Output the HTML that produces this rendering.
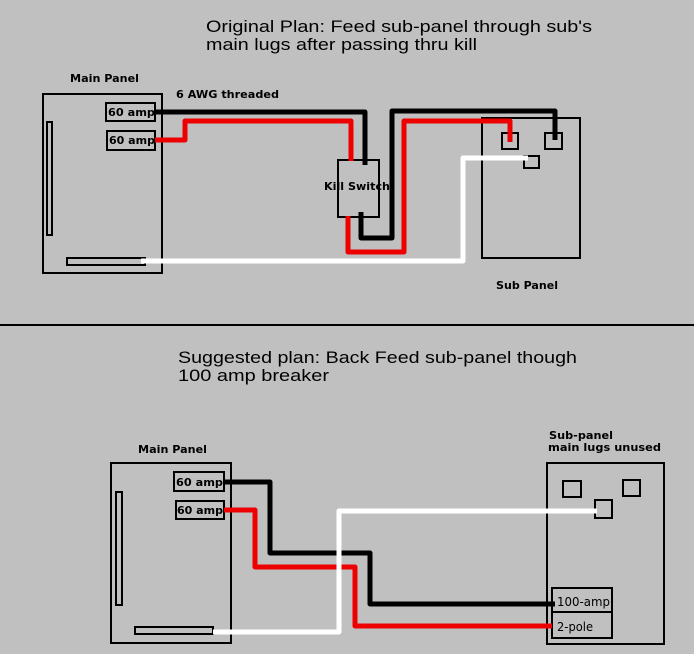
<!DOCTYPE html>
<html><head><style>
html,body{margin:0;padding:0;background:#c0c0c0;}
svg{display:block;}
text{font-family:"DejaVu Sans","Liberation Sans",sans-serif;fill:#000;}
.t{font-size:17px;font-family:"Liberation Sans",sans-serif;}
.b{font-size:11px;font-weight:bold;}
.s{font-size:12px;}
</style></head><body>
<svg width="694" height="654" viewBox="0 0 694 654" xmlns="http://www.w3.org/2000/svg">
<rect width="694" height="654" fill="#c0c0c0"/>
<g fill="none" stroke="#000" stroke-width="2">
<rect x="43" y="94" width="119" height="179"/>
<rect x="47" y="122" width="5" height="113"/>
<rect x="106" y="103" width="49" height="18"/>
<rect x="107" y="131" width="48" height="19"/>
<rect x="67" y="258" width="78" height="7"/>
<rect x="338" y="160" width="41" height="57"/>
<rect x="482" y="118" width="98" height="140"/>
<rect x="502" y="133" width="16" height="16"/>
<rect x="545" y="133" width="17" height="16"/>
<rect x="524" y="156" width="15" height="12"/>
<rect x="111" y="463" width="120" height="180"/>
<rect x="116" y="492" width="6" height="113"/>
<rect x="174" y="472" width="50" height="19"/>
<rect x="176" y="501" width="48" height="18"/>
<rect x="135" y="627" width="78" height="7"/>
<rect x="547" y="463" width="117" height="181"/>
<rect x="563" y="481" width="18" height="16"/>
<rect x="623" y="480" width="17" height="16"/>
<rect x="595" y="500" width="17" height="18"/>
<rect x="552" y="588" width="60" height="50"/>
<line x1="552" y1="612" x2="612" y2="612"/>
</g>
<line x1="0" y1="325" x2="694" y2="325" stroke="#000" stroke-width="2"/>
<g fill="none" stroke-width="5" stroke-linejoin="round">
<polyline stroke="#000" points="155,112 365,112 365,165"/>
<polyline stroke="#e00" points="155,140 185,140 185,121 351,121 351,161"/>
<polyline stroke="#000" points="361,212 361,238 392,238 392,111 555,111 555,140"/>
<polyline stroke="#e00" points="348,216 348,252 404,252 404,121 510,121 510,142"/>
<polyline stroke="#fff" points="141,261 463,261 463,158 528,158"/>
<polyline stroke="#000" points="224,482 270,482 270,553 370,553 370,604 555,604"/>
<polyline stroke="#e00" points="224,510 255,510 255,567 355,567 355,626 552,626"/>
<polyline stroke="#fff" points="213,632 339,632 339,511 597,511"/>
</g>
<text class="t" x="206" y="32" textLength="386" lengthAdjust="spacingAndGlyphs">Original Plan:  Feed sub-panel through sub's</text>
<text class="t" x="206" y="50" textLength="271" lengthAdjust="spacingAndGlyphs">main lugs after passing thru kill</text>
<text class="b" x="70" y="82" textLength="69" lengthAdjust="spacingAndGlyphs">Main Panel</text>
<text class="b" x="176" y="98" textLength="103" lengthAdjust="spacingAndGlyphs">6 AWG threaded</text>
<text class="b" x="108" y="116" textLength="47" lengthAdjust="spacingAndGlyphs">60 amp</text>
<text class="b" x="109" y="144" textLength="46" lengthAdjust="spacingAndGlyphs">60 amp</text>
<text class="b" x="324" y="190" textLength="66" lengthAdjust="spacingAndGlyphs">Kill Switch</text>
<text class="b" x="496" y="289" textLength="62" lengthAdjust="spacingAndGlyphs">Sub Panel</text>
<text class="t" x="178" y="363" textLength="399" lengthAdjust="spacingAndGlyphs">Suggested plan:  Back Feed sub-panel though</text>
<text class="t" x="178" y="381" textLength="151" lengthAdjust="spacingAndGlyphs">100 amp breaker</text>
<text class="b" x="138" y="453" textLength="69" lengthAdjust="spacingAndGlyphs">Main Panel</text>
<text class="b" x="549" y="439" textLength="64" lengthAdjust="spacingAndGlyphs">Sub-panel</text>
<text class="b" x="548" y="451" textLength="113" lengthAdjust="spacingAndGlyphs">main lugs unused</text>
<text class="b" x="176" y="486" textLength="47" lengthAdjust="spacingAndGlyphs">60 amp</text>
<text class="b" x="177" y="514" textLength="46" lengthAdjust="spacingAndGlyphs">60 amp</text>
<text class="s" x="557" y="606" textLength="53" lengthAdjust="spacingAndGlyphs">100-amp</text>
<text class="s" x="557" y="631" textLength="36" lengthAdjust="spacingAndGlyphs">2-pole</text>
</svg>
</body></html>
